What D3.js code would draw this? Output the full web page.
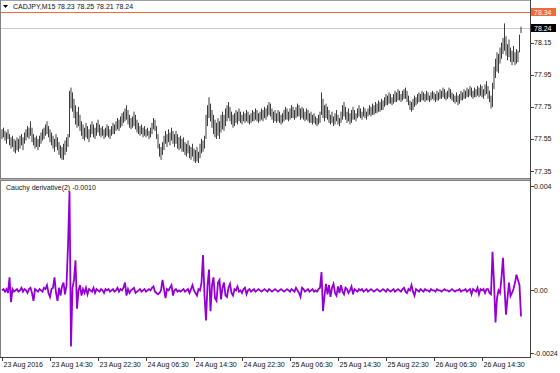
<!DOCTYPE html>
<html>
<head>
<meta charset="utf-8">
<script src="https://cdn.jsdelivr.net/npm/d3@7"></script>
<style>
  body { margin: 0; background: #fff; }
  svg { display: block; font-family: "Liberation Sans", Arial, sans-serif; }
</style>
</head>
<body>
<div id="chart"></div>
<script>
// CADJPY M15 bars, 23 Aug 06:30 .. 26 Aug 2016
var symbolTitle = "CADJPY,M15  78.23 78.25 78.21 78.24"
var indicatorTitle = "Cauchy derivative(2) -0.0010"

var timeLabels = ["23 Aug 2016", "23 Aug 14:30", "23 Aug 22:30", "24 Aug 06:30", "24 Aug 14:30",
  "24 Aug 22:30", "25 Aug 06:30", "25 Aug 14:30", "25 Aug 22:30", "26 Aug 06:30", "26 Aug 14:30"]
var barsPerLabel = 32

var priceTicks = [78.15, 77.95, 77.75, 77.55, 77.35]
var indTicks = [0.004, 0.00, -0.0024]
var indTickLabels = ["0.004", "0.00", "-0.0024"]

var bidPrice = 78.24
var hlinePrice = 78.34

var highs = [
  77.61,77.62,77.60,77.59,77.61,77.58,77.56,77.57,77.55,77.54,
  77.56,77.55,77.57,77.58,77.56,77.59,77.61,77.63,77.62,77.66,
  77.62,77.58,77.56,77.57,77.55,77.57,77.59,77.61,77.62,77.64,
  77.66,77.63,77.61,77.59,77.57,77.55,77.58,77.56,77.53,77.51,
  77.50,77.52,77.54,77.56,77.58,77.85,77.87,77.84,77.80,77.76,
  77.72,77.75,77.70,77.66,77.64,77.62,77.65,77.63,77.61,77.64,
  77.66,77.64,77.62,77.65,77.67,77.64,77.62,77.63,77.61,77.62,
  77.64,77.63,77.61,77.63,77.65,77.64,77.66,77.68,77.67,77.69,
  77.71,77.72,77.74,77.76,77.73,77.70,77.68,77.69,77.72,77.70,
  77.67,77.65,77.63,77.64,77.62,77.63,77.61,77.62,77.60,77.62,
  77.65,77.68,77.67,77.63,77.58,77.52,77.50,77.53,77.57,77.60,
  77.58,77.61,77.59,77.62,77.60,77.58,77.60,77.58,77.56,77.57,
  77.55,77.56,77.53,77.52,77.54,77.51,77.50,77.52,77.49,77.48,
  77.50,77.47,77.52,77.55,77.54,77.57,77.70,77.76,77.81,77.77,
  77.73,77.70,77.67,77.65,77.68,77.66,77.70,77.72,77.70,77.74,
  77.76,77.78,77.75,77.72,77.70,77.71,77.73,77.72,77.74,77.72,
  77.70,77.72,77.71,77.73,77.72,77.70,77.71,77.73,77.72,77.74,
  77.73,77.71,77.72,77.74,77.73,77.75,77.74,77.76,77.78,77.77,
  77.74,77.72,77.73,77.71,77.73,77.72,77.70,77.71,77.73,77.75,
  77.74,77.72,77.74,77.76,77.75,77.73,77.75,77.77,77.76,77.74,
  77.75,77.74,77.72,77.74,77.73,77.71,77.72,77.70,77.71,77.69,
  77.68,77.70,77.72,77.84,77.80,77.76,77.77,77.75,77.73,77.70,
  77.72,77.69,77.71,77.73,77.70,77.68,77.72,77.76,77.78,77.75,
  77.72,77.74,77.71,77.73,77.75,77.73,77.71,77.74,77.76,77.74,
  77.72,77.75,77.74,77.72,77.74,77.76,77.75,77.77,77.76,77.78,
  77.77,77.79,77.78,77.80,77.79,77.81,77.83,77.82,77.84,77.83,
  77.81,77.83,77.85,77.84,77.86,77.85,77.83,77.85,77.86,77.87,
  77.85,77.82,77.79,77.78,77.80,77.82,77.81,77.83,77.84,77.83,
  77.85,77.84,77.83,77.85,77.84,77.82,77.84,77.85,77.84,77.83,
  77.85,77.84,77.86,77.85,77.87,77.86,77.84,77.85,77.87,77.86,
  77.84,77.83,77.82,77.84,77.82,77.83,77.85,77.84,77.86,77.85,
  77.87,77.86,77.88,77.87,77.85,77.87,77.86,77.88,77.87,77.89,
  77.88,77.86,77.89,77.91,77.88,77.85,77.82,77.90,78.00,78.05,
  78.09,78.08,78.12,78.15,78.18,78.27,78.19,78.14,78.17,78.12,
  78.10,78.13,78.09,78.11,78.10,78.20,78.25
]

var lows = [
  77.55,77.56,77.54,77.52,77.55,77.51,77.49,77.50,77.47,77.46,
  77.48,77.47,77.49,77.51,77.48,77.52,77.54,77.56,77.55,77.57,
  77.53,77.51,77.49,77.50,77.48,77.50,77.52,77.54,77.55,77.57,
  77.58,77.56,77.53,77.51,77.49,77.47,77.50,77.48,77.45,77.43,
  77.42,77.42,77.45,77.47,77.50,77.56,77.74,77.72,77.68,77.64,
  77.62,77.63,77.60,77.57,77.55,77.54,77.56,77.55,77.53,77.56,
  77.58,77.56,77.55,77.57,77.59,77.57,77.56,77.57,77.55,77.56,
  77.57,77.56,77.55,77.57,77.58,77.58,77.60,77.61,77.60,77.62,
  77.63,77.65,77.66,77.67,77.64,77.62,77.61,77.62,77.63,77.61,
  77.59,77.58,77.57,77.58,77.56,77.57,77.56,77.57,77.55,77.56,
  77.58,77.61,77.60,77.55,77.49,77.44,77.42,77.45,77.48,77.52,
  77.50,77.53,77.51,77.54,77.52,77.50,77.52,77.49,77.48,77.49,
  77.47,77.47,77.45,77.44,77.46,77.43,77.42,77.44,77.41,77.40,
  77.41,77.40,77.43,77.46,77.47,77.49,77.55,77.63,77.68,77.66,
  77.62,77.58,77.56,77.55,77.57,77.55,77.59,77.61,77.60,77.63,
  77.66,77.68,77.66,77.64,77.62,77.63,77.65,77.64,77.66,77.65,
  77.64,77.66,77.65,77.66,77.65,77.64,77.65,77.66,77.66,77.67,
  77.66,77.65,77.66,77.67,77.66,77.68,77.67,77.69,77.70,77.69,
  77.67,77.65,77.66,77.65,77.66,77.65,77.64,77.65,77.66,77.67,
  77.67,77.66,77.67,77.68,77.68,77.67,77.68,77.69,77.69,77.67,
  77.68,77.67,77.66,77.67,77.66,77.65,77.65,77.64,77.65,77.64,
  77.63,77.64,77.65,77.70,77.68,77.66,77.68,77.67,77.65,77.64,
  77.65,77.63,77.64,77.66,77.64,77.63,77.65,77.67,77.69,77.67,
  77.65,77.66,77.64,77.65,77.67,77.67,77.66,77.68,77.69,77.68,
  77.67,77.69,77.68,77.67,77.69,77.70,77.69,77.70,77.70,77.71,
  77.71,77.72,77.72,77.73,77.73,77.75,77.76,77.76,77.77,77.77,
  77.76,77.77,77.78,77.78,77.79,77.79,77.78,77.79,77.80,77.80,
  77.78,77.76,77.73,77.72,77.73,77.75,77.76,77.77,77.78,77.78,
  77.79,77.79,77.78,77.79,77.79,77.78,77.79,77.80,77.79,77.78,
  77.79,77.79,77.80,77.80,77.81,77.80,77.79,77.80,77.81,77.80,
  77.79,77.78,77.77,77.78,77.76,77.77,77.79,77.79,77.80,77.80,
  77.81,77.81,77.82,77.81,77.80,77.81,77.81,77.82,77.81,77.82,
  77.81,77.80,77.82,77.83,77.80,77.78,77.74,77.75,77.86,77.93,
  77.97,77.96,78.02,78.05,78.08,78.10,78.07,78.04,78.06,78.03,
  78.01,78.03,78.01,78.02,78.03,78.09,78.21
]

// indicator values in units of 0.0001
var cauchyE4 = [
  0,0.5,-0.5,0.5,-1,5,-4.5,0.5,-0.5,0,
  0.5,-0.5,0,1,-0.5,0.5,0,-1,0.5,1,
  -1,-4,0.5,0,-0.5,0.5,0,-0.5,1,0.5,
  2,-1,-2.5,0.5,1,5,-1,-4,1,-2,
  1.5,3,-1.5,2,17,38,-21.5,1,4,11.5,
  -7,0,2,-2,0.5,-1,1,-1.5,0.5,0,
  -0.5,1,-1,0.5,0,-0.5,0.5,0,-1,0.5,
  0,0.5,-0.5,0,0.5,-0.5,0,1,-0.5,0.5,
  0,1,3,-2,0.5,-1,0,0.5,1,-1,
  -0.5,0,0.5,-0.5,0,0.5,-0.5,0,0.5,0,
  1,1.5,-0.5,-1,-1.5,-1,0,4,0.5,-3,
  0.5,0,1,2,-2,0,0.5,-0.5,0,-0.5,
  0,0.5,-0.5,0,0.5,-1,0.5,2,0,-1,
  -2,0.5,0,3,13.5,-2,-11.5,2,8,-8,
  2,5,-3,-4,3,4,-3.5,1,3,-2,
  -2.5,1,2.5,-1,-2,0.5,0,1.5,-0.5,0,
  -1,0.5,1,-1.5,0,0.5,-0.5,0,0.5,-0.5,
  0,0.5,0,-0.5,0,0.5,0,-0.5,0.5,0,
  -0.5,0,0.5,0,-0.5,0,0.5,0,-0.5,0,
  0.5,0,-0.5,0.5,0,-0.5,1,0,-1,-2.5,
  1,0.5,-0.5,0,0.5,-0.5,0,0.5,-0.5,0,
  -0.5,0.5,1,7,-8,-2,2.5,-1.5,2,-2.5,
  1,2.5,-1,-2,1.5,-1,2,-0.5,-1.5,1,
  0.5,-1,0,1.5,-1.5,0.5,0,-0.5,0.5,0,
  0.5,-0.5,0,0.5,-0.5,0,0.5,0,-0.5,0,
  0.5,0,-0.5,0,0.5,0,-0.5,0.5,0,-0.5,
  0,0.5,-0.5,0,0.5,0,-0.5,0.5,1,-0.5,
  -1,0.5,0,2,-0.5,-2,0.5,0,-0.5,0.5,
  0,-0.5,0.5,0,0,-0.5,0.5,0,0,-0.5,
  0.5,0,0,-0.5,0,0.5,0,0,-0.5,0,
  0.5,0,-0.5,0,0,0.5,-0.5,0,0,0.5,
  -0.5,0,0.5,-1.5,0.5,0,-0.5,1,-1.5,0.5,
  0,0.5,-1,0.5,0.5,-1,-1.5,14.8,3,-12.3,
  -3,0,-1,5,12.5,1,-9.3,-3,3,-2.2,
  -1,0.5,3,6,4,2,-10
]
var cauchy = cauchyE4.map(function(v) { return v / 10000 })

var width = 560, height = 373
var chartRight = 530
var mainTop = 1, mainBottom = 178
var indTop = 181, indBottom = 357

var svg = d3.select("#chart")
  .append("svg")
    .attr("width", width)
    .attr("height", height)
    .style("font-size", "7px")

var x = d3.scaleLinear()
  .domain([0, highs.length - 1])
  .range([2, 521])

var y = d3.scaleLinear()
  .domain([77.35, 78.15])
  .range([171, 42.7])

var yInd = d3.scaleLinear()
  .domain([-0.0024, 0.004])
  .range([353, 186])

// horizontal price lines
svg.append("line")
  .attr("x1", 1).attr("x2", chartRight)
  .attr("y1", Math.round(y(bidPrice)) + 0.5).attr("y2", Math.round(y(bidPrice)) + 0.5)
  .style("stroke", "#c8c8c8")

svg.append("line")
  .attr("x1", 1).attr("x2", chartRight)
  .attr("y1", Math.round(y(hlinePrice)) + 0.5).attr("y2", Math.round(y(hlinePrice)) + 0.5)
  .style("stroke", "#f26a3a")

// price bars (high-low)
svg.append("g")
  .selectAll("line")
  .data(highs)
  .enter()
  .append("line")
    .attr("x1", function(d, i) { return x(i) })
    .attr("x2", function(d, i) { return x(i) })
    .attr("y1", function(d) { return y(d) })
    .attr("y2", function(d, i) { return y(lows[i]) })
    .style("stroke", "#3c3c3c")
    .style("stroke-width", 1)

// indicator line
svg.append("path")
  .datum(cauchy)
  .attr("d", d3.line()
    .x(function(d, i) { return x(i) })
    .y(function(d) { return yInd(d) })
  )
  .style("fill", "none")
  .style("stroke", "#9400d3")
  .style("stroke-width", 1.8)

// frame
svg.append("line").attr("x1", 0).attr("x2", chartRight).attr("y1", 0.5).attr("y2", 0.5).style("stroke", "#a0a0a0")
svg.append("line").attr("x1", 0.5).attr("x2", 0.5).attr("y1", 0).attr("y2", indBottom).style("stroke", "#808080")
svg.append("line").attr("x1", chartRight + 0.5).attr("x2", chartRight + 0.5).attr("y1", 0).attr("y2", indBottom + 1).style("stroke", "#404040")
svg.append("line").attr("x1", 0).attr("x2", chartRight).attr("y1", mainBottom + 0.5).attr("y2", mainBottom + 0.5).style("stroke", "#808080")
svg.append("line").attr("x1", 0).attr("x2", chartRight).attr("y1", mainBottom + 1.5).attr("y2", mainBottom + 1.5).style("stroke", "#b0b0b0")
svg.append("line").attr("x1", 0).attr("x2", chartRight).attr("y1", indTop - 0.5).attr("y2", indTop - 0.5).style("stroke", "#808080")
svg.append("line").attr("x1", 0).attr("x2", chartRight + 1).attr("y1", indBottom + 0.5).attr("y2", indBottom + 0.5).style("stroke", "#404040")

// price axis
var pAxis = svg.append("g")
pAxis.selectAll("line")
  .data(priceTicks)
  .enter()
  .append("line")
    .attr("x1", chartRight + 1).attr("x2", chartRight + 4)
    .attr("y1", function(d) { return Math.round(y(d)) + 0.5 })
    .attr("y2", function(d) { return Math.round(y(d)) + 0.5 })
    .style("stroke", "#404040")
pAxis.selectAll("text")
  .data(priceTicks)
  .enter()
  .append("text")
    .attr("x", chartRight + 4)
    .attr("y", function(d) { return y(d) + 2.5 })
    .style("fill", "#111")
    .text(function(d) { return d.toFixed(2) })

// price labels in boxes
function priceBox(v, fill) {
  var yy = Math.round(y(v))
  svg.append("rect")
    .attr("x", chartRight + 1).attr("y", yy - 4)
    .attr("width", 25).attr("height", 8)
    .style("fill", fill)
  svg.append("text")
    .attr("x", chartRight + 4).attr("y", yy + 2.5)
    .style("fill", "#fff")
    .text(v.toFixed(2))
}
priceBox(hlinePrice, "#f26a3a")
priceBox(bidPrice, "#000")

// indicator axis
var iAxis = svg.append("g")
iAxis.selectAll("line")
  .data(indTicks)
  .enter()
  .append("line")
    .attr("x1", chartRight + 1).attr("x2", chartRight + 4)
    .attr("y1", function(d) { return Math.round(yInd(d)) + 0.5 })
    .attr("y2", function(d) { return Math.round(yInd(d)) + 0.5 })
    .style("stroke", "#404040")
iAxis.selectAll("text")
  .data(indTicks)
  .enter()
  .append("text")
    .attr("x", chartRight + 4)
    .attr("y", function(d) { return yInd(d) + 2.5 })
    .style("fill", "#111")
    .text(function(d, i) { return indTickLabels[i] })

// time axis
var tAxis = svg.append("g")
tAxis.selectAll("line")
  .data(timeLabels)
  .enter()
  .append("line")
    .attr("x1", function(d, i) { return Math.round(x(i * barsPerLabel)) + 0.5 })
    .attr("x2", function(d, i) { return Math.round(x(i * barsPerLabel)) + 0.5 })
    .attr("y1", indBottom).attr("y2", indBottom + 4)
    .style("stroke", "#404040")
tAxis.selectAll("text")
  .data(timeLabels)
  .enter()
  .append("text")
    .attr("x", function(d, i) { return x(i * barsPerLabel) + 1.5 })
    .attr("y", indBottom + 10)
    .style("fill", "#111")
    .text(function(d) { return d })

// titles
svg.append("path")
  .attr("d", "M3,5 L8,5 L5.5,8 Z")
  .style("fill", "#000")
svg.append("text")
  .attr("x", 13).attr("y", 9)
  .style("fill", "#111")
  .text(symbolTitle)

svg.append("text")
  .attr("x", 6).attr("y", 190)
  .style("fill", "#111")
  .text(indicatorTitle)
</script>
</body>
</html>
